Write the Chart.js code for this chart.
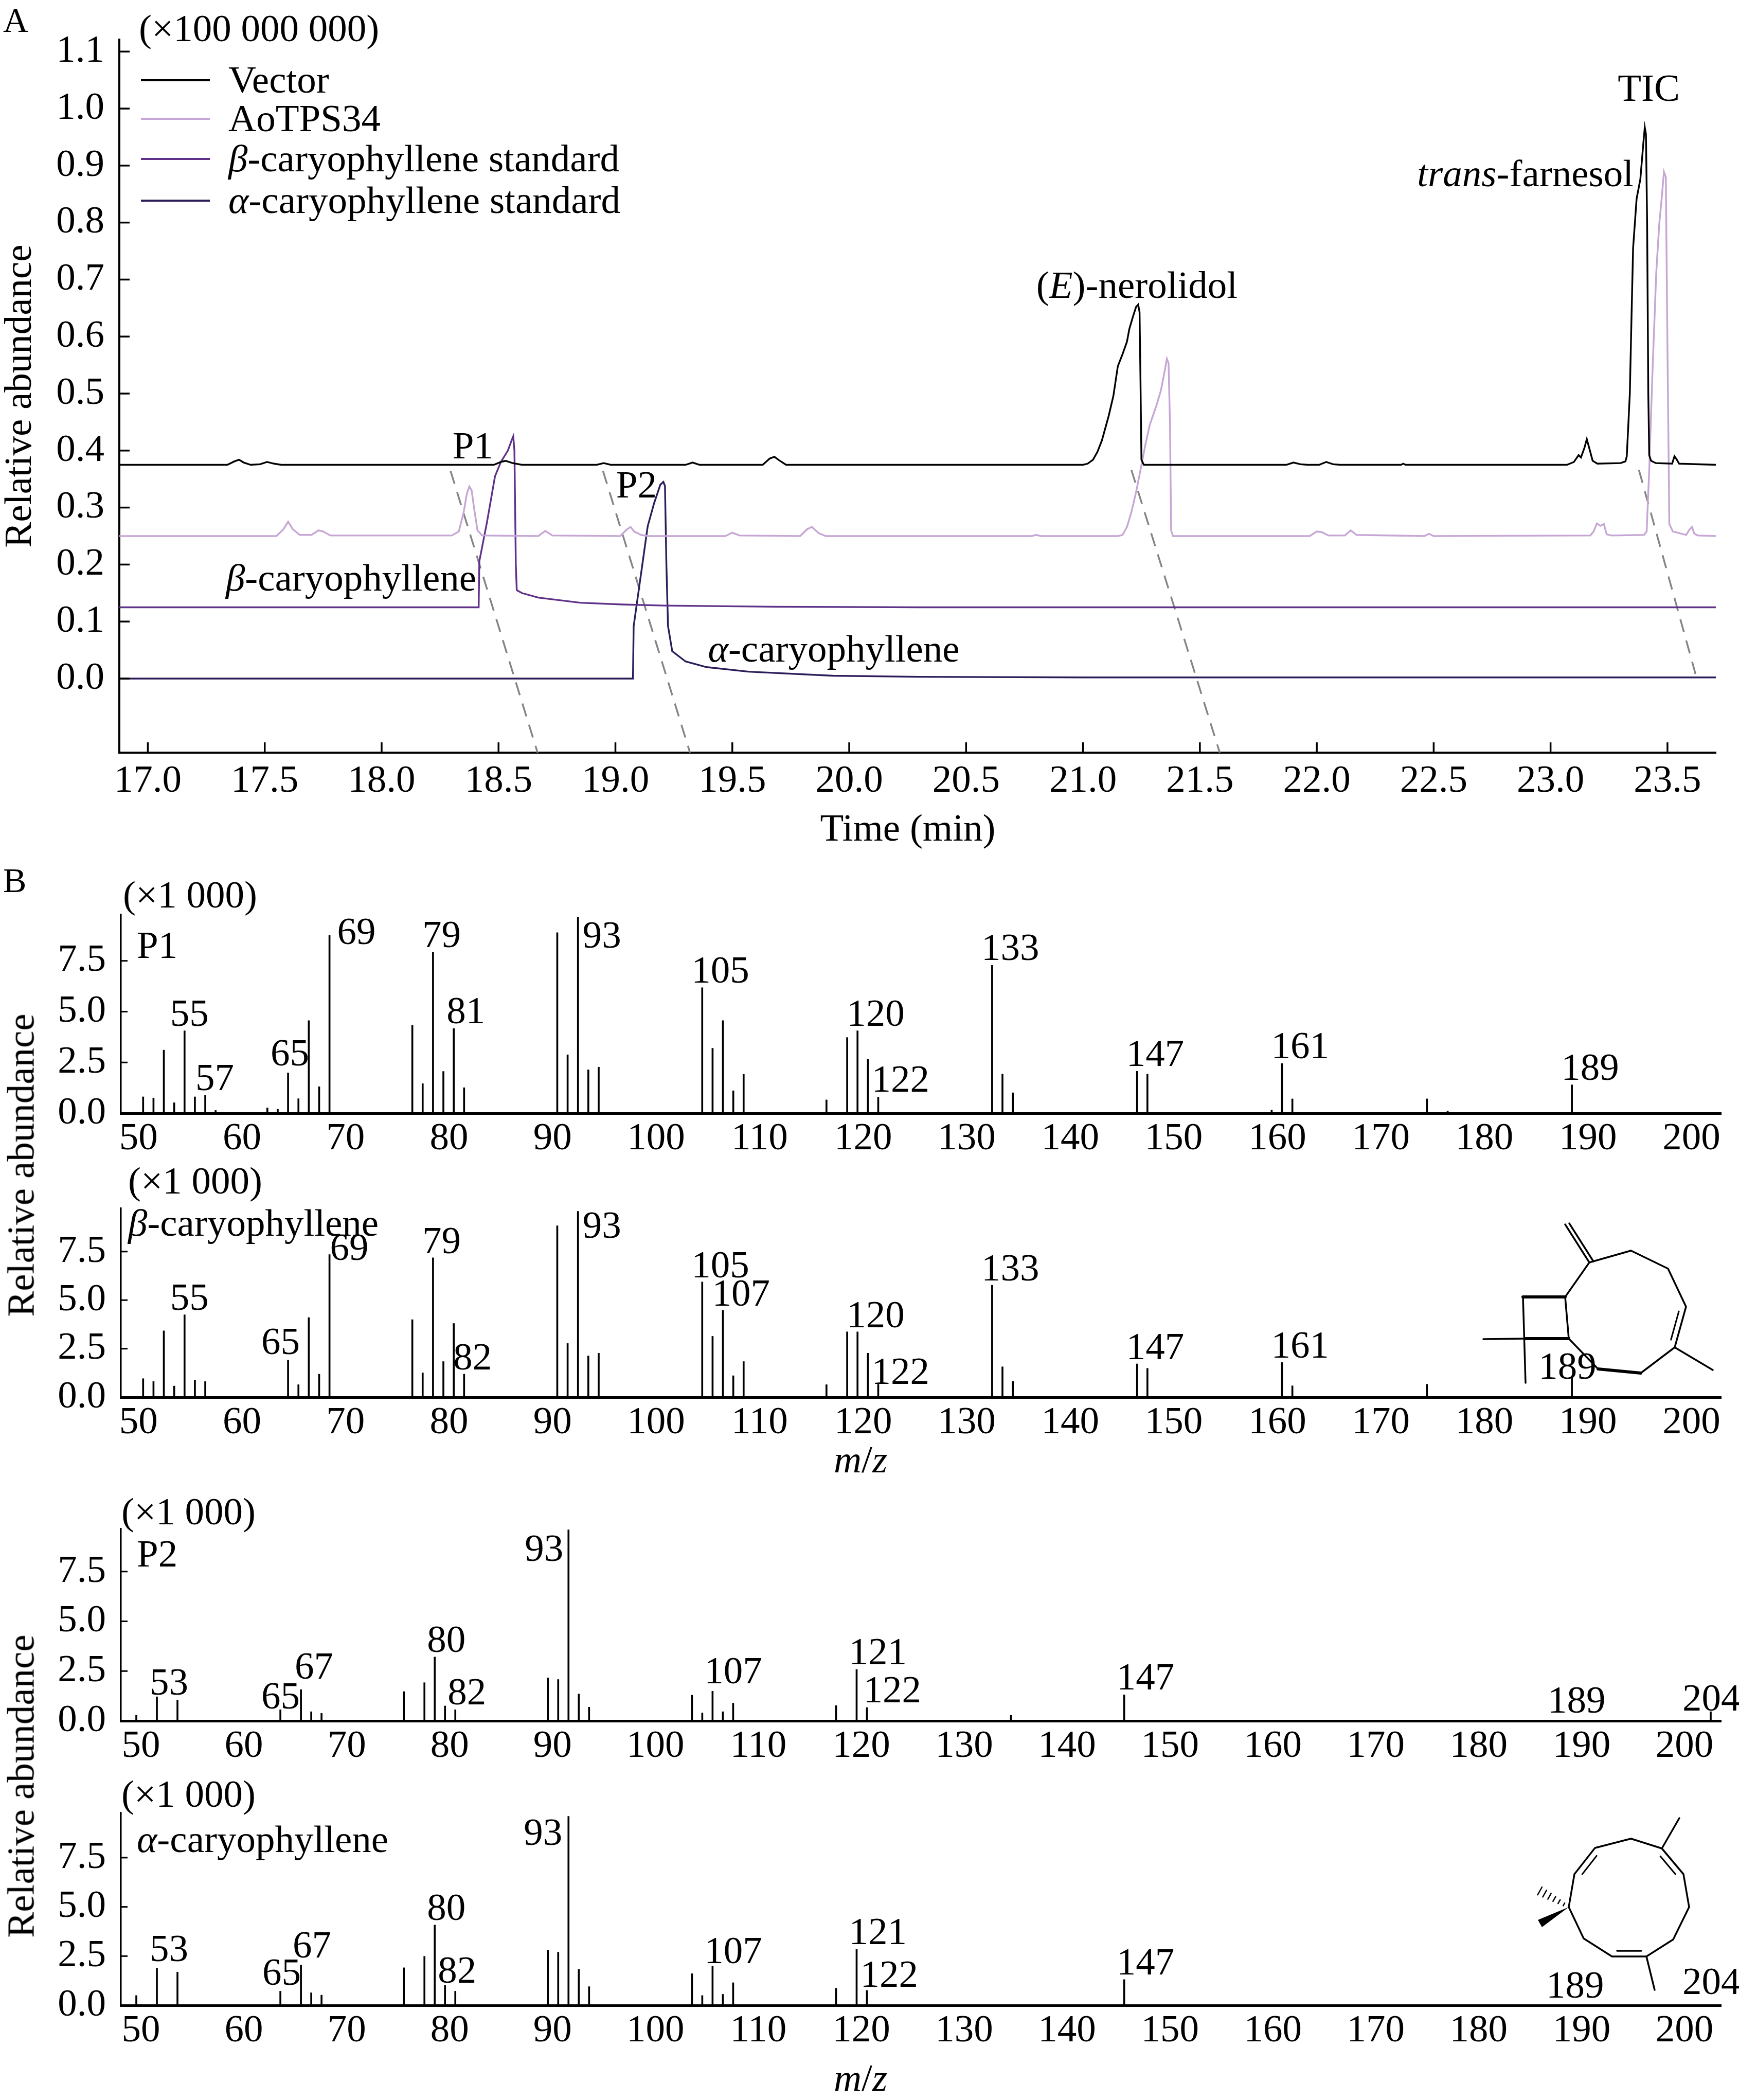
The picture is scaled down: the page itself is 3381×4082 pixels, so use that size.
<!DOCTYPE html>
<html><head><meta charset="utf-8">
<script src="https://cdn.jsdelivr.net/npm/chart.js@4.4.1/dist/chart.umd.min.js"></script>
<style>
html,body{margin:0;padding:0;background:#fff;}
#page{position:relative;width:3381px;height:4082px;background:#fff;overflow:hidden;font-family:'Liberation Serif','Times New Roman',serif;}
canvas{position:absolute;left:0;}
.ytitle{position:absolute;font-size:75px;white-space:nowrap;transform:translate(-50%,-50%) rotate(-90deg);line-height:1;color:#000;font-family:'Liberation Serif','Times New Roman',serif;}
</style></head><body>
<div id="page">
<canvas id="cA" width="3381" height="1680" style="top:0px"></canvas>
<canvas id="cP1" width="3381" height="630" style="top:1660px"></canvas>
<canvas id="cB" width="3381" height="640" style="top:2240px"></canvas>
<canvas id="cP2" width="3381" height="580" style="top:2860px"></canvas>
<canvas id="cAl" width="3381" height="662" style="top:3420px"></canvas>
<div class="ytitle" style="left:40px;top:2265px">Relative abundance</div>
<div class="ytitle" style="left:40px;top:3472px">Relative abundance</div>
</div>
<script>
// ---------------- DATA ----------------
const timeTicks = [17.0,17.5,18.0,18.5,19.0,19.5,20.0,20.5,21.0,21.5,22.0,22.5,23.0,23.5];
const abundTicks = [0.0,0.1,0.2,0.3,0.4,0.5,0.6,0.7,0.8,0.9,1.0,1.1];

const vectorTrace = [
[16.878,0.375],[17.34,0.375],[17.37,0.381],[17.39,0.384],[17.41,0.379],[17.44,0.375],[17.48,0.376],[17.51,0.380],[17.54,0.377],[17.57,0.375],
[18.48,0.375],[18.51,0.380],[18.53,0.382],[18.56,0.378],[18.60,0.375],
[18.92,0.375],[18.95,0.378],[18.98,0.375],
[19.30,0.375],[19.33,0.379],[19.36,0.375],
[19.63,0.375],[19.66,0.386],[19.68,0.389],[19.70,0.383],[19.73,0.375],
[21.00,0.375],[21.02,0.377],[21.043,0.384],[21.062,0.398],[21.081,0.418],[21.110,0.461],[21.130,0.496],[21.149,0.548],[21.169,0.569],[21.188,0.591],[21.198,0.613],[21.213,0.634],[21.227,0.652],[21.236,0.656],[21.242,0.643],[21.246,0.52],[21.25,0.384],[21.26,0.375],
[21.87,0.375],[21.90,0.379],[21.93,0.376],[21.96,0.375],[22.01,0.375],[22.04,0.380],[22.07,0.376],[22.10,0.375],[22.36,0.375],[22.37,0.377],[22.38,0.375],
[23.07,0.375],[23.10,0.380],[23.12,0.392],[23.13,0.388],[23.145,0.405],[23.155,0.420],[23.165,0.405],[23.18,0.382],[23.20,0.377],
[23.30,0.378],[23.32,0.381],[23.326,0.39],[23.332,0.44],[23.339,0.50],[23.346,0.63],[23.353,0.755],[23.368,0.842],[23.384,0.876],[23.397,0.94],[23.403,0.967],[23.408,0.955],[23.413,0.80],[23.418,0.50],[23.422,0.392],[23.43,0.382],[23.45,0.378],
[23.52,0.377],[23.53,0.390],[23.54,0.384],[23.55,0.377],[23.707,0.375]
];
const aotpsTrace = [
[16.878,0.25],[17.55,0.25],[17.58,0.262],[17.60,0.275],[17.62,0.262],[17.65,0.252],[17.70,0.252],[17.73,0.260],[17.75,0.258],[17.78,0.251],
[18.30,0.251],[18.33,0.258],[18.35,0.29],[18.365,0.325],[18.375,0.337],[18.385,0.33],[18.395,0.30],[18.41,0.26],[18.43,0.251],
[18.67,0.25],[18.70,0.259],[18.73,0.251],
[19.02,0.25],[19.05,0.262],[19.065,0.266],[19.08,0.258],[19.11,0.252],[19.14,0.25],
[19.47,0.25],[19.50,0.256],[19.53,0.251],
[19.79,0.25],[19.82,0.262],[19.84,0.266],[19.87,0.255],[19.90,0.25],
[20.78,0.25],[20.80,0.252],[20.82,0.25],
[21.15,0.25],[21.169,0.252],[21.188,0.266],[21.207,0.292],[21.227,0.327],[21.246,0.366],[21.266,0.409],[21.285,0.444],[21.314,0.479],[21.333,0.505],[21.349,0.539],[21.359,0.561],[21.366,0.553],[21.372,0.45],[21.377,0.26],[21.385,0.25],
[21.97,0.25],[22.0,0.258],[22.02,0.257],[22.05,0.251],[22.12,0.251],[22.145,0.26],[22.17,0.252],[22.46,0.25],[22.48,0.254],[22.50,0.25],
[23.17,0.251],[23.184,0.258],[23.198,0.272],[23.213,0.268],[23.228,0.271],[23.24,0.253],[23.26,0.251],
[23.40,0.252],[23.411,0.258],[23.422,0.366],[23.436,0.539],[23.452,0.712],[23.465,0.798],[23.475,0.841],[23.485,0.889],[23.493,0.88],[23.50,0.58],[23.508,0.271],[23.523,0.258],
[23.58,0.252],[23.595,0.262],[23.605,0.266],[23.615,0.254],[23.63,0.251],[23.707,0.25]
];
const betaStdTrace = [
[16.878,0.125],[18.415,0.125],[18.418,0.206],[18.45,0.273],[18.485,0.355],[18.51,0.38],[18.54,0.40],[18.558,0.42],[18.563,0.425],[18.568,0.40],[18.574,0.20],[18.578,0.155],[18.60,0.150],[18.67,0.142],[18.85,0.133],[19.03,0.130],[19.21,0.128],[19.68,0.126],[20.3,0.125],[23.707,0.125]
];
const alphaStdTrace = [
[16.878,0.0],[19.075,0.0],[19.078,0.092],[19.11,0.185],[19.138,0.267],[19.165,0.307],[19.192,0.34],[19.205,0.345],[19.212,0.338],[19.218,0.20],[19.225,0.092],[19.243,0.048],[19.30,0.03],[19.39,0.02],[19.57,0.012],[19.93,0.005],[20.3,0.003],[21.0,0.002],[23.707,0.002]
];
const guideP1 = [[18.295,0.364],[18.667,-0.13]];
const guideP2 = [[18.947,0.364],[19.319,-0.13]];
const guideNerolidol = [[21.207,0.366],[21.585,-0.13]];
const guideFarnesol = [[23.378,0.366],[23.62,0.008]];

const chromNotes = [
 {segs:[['P1',0]], x:18.39, y:0.386, align:'center'},
 {segs:[['P2',0]], x:19.09, y:0.318, align:'center'},
 {segs:[['β',1],['-caryophyllene',0]], x:18.405, y:0.154, align:'right'},
 {segs:[['α',1],['-caryophyllene',0]], x:19.396, y:0.030, align:'left'},
 {segs:[['(',0],['E',1],[')-nerolidol',0]], x:20.80, y:0.668, align:'left'},
 {segs:[['trans',1],['-farnesol',0]], x:23.355, y:0.864, align:'right'},
 {segs:[['TIC',0]], x:23.42, y:1.014, align:'center'}
];

const mzTicks = [50,60,70,80,90,100,110,120,130,140,150,160,170,180,190,200];
const relTicks = [0.0,2.5,5.0,7.5];

const p1MZ  = [51,52,53,54,55,56,57,58,63,64,65,66,67,68,69,77,78,79,80,81,82,91,92,93,94,95,105,106,107,108,109,117,119,120,121,122,133,134,135,147,148,160,161,162,175,177,189];
const p1Int = [0.81,0.75,3.11,0.52,4.06,0.81,0.88,0.14,0.27,0.20,1.99,0.72,4.56,1.31,8.75,4.33,1.46,7.92,2.06,4.17,1.26,8.89,2.88,9.66,2.14,2.27,6.18,3.20,4.56,1.11,1.92,0.66,3.73,4.06,2.66,0.80,7.28,1.93,1.01,2.07,1.93,0.16,2.45,0.71,0.71,0.11,1.40];
const p1Labels = [55,57,65,69,79,81,93,105,120,122,133,147,161,189];

const betaMZ  = [51,52,53,54,55,56,57,65,66,67,68,69,77,78,79,80,81,82,91,92,93,94,95,105,106,107,108,109,117,119,120,121,122,133,134,135,147,148,161,162,175,189];
const betaInt = [0.96,0.81,3.42,0.58,4.25,0.89,0.81,1.91,0.65,4.10,1.19,7.35,4.00,1.26,7.18,1.84,3.80,1.19,8.83,2.77,9.57,2.13,2.27,5.94,3.14,4.48,1.11,1.84,0.65,3.37,3.37,2.27,0.67,5.77,1.57,0.82,1.72,1.49,1.79,0.59,0.67,1.03];
const betaLabels = [55,65,69,79,82,93,105,107,120,122,133,147,161,189];

const p2MZ  = [51,53,55,65,67,68,69,77,79,80,81,82,91,92,93,94,95,105,106,107,108,109,119,121,122,136,147,204];
const p2Int = [0.28,1.21,1.05,0.56,1.57,0.46,0.38,1.47,1.92,3.21,0.75,0.56,2.16,2.08,9.60,1.35,0.69,1.29,0.40,1.49,0.46,0.89,0.77,2.58,0.67,0.28,1.31,0.46];
const p2Labels = [53,65,67,80,82,93,107,121,122,147,189,204];

const alphaMZ  = [51,53,55,65,67,68,69,77,79,80,81,82,91,92,93,94,95,105,106,107,108,109,119,121,122,147];
const alphaInt = [0.50,1.89,1.69,0.72,2.05,0.64,0.52,1.91,2.49,4.08,1.01,0.72,2.80,2.70,9.60,1.83,0.95,1.61,0.50,1.99,0.56,1.15,0.87,2.84,0.76,1.31];
const alphaLabels = [53,65,67,80,82,93,107,121,122,147,189,204];

// ---------------- HELPERS ----------------
const SERIF = "'Liberation Serif', 'Times New Roman', serif";
function fnt(size, italic){ return (italic ? 'italic ' : '') + size + 'px ' + SERIF; }
function drawRich(ctx, segs, x, y, align, size, baseline){
  size = size || 75;
  ctx.save();
  ctx.fillStyle = '#000';
  ctx.textBaseline = baseline || 'alphabetic';
  ctx.textAlign = 'left';
  let total = 0;
  const ws = segs.map(s => { ctx.font = fnt(size, s[1]); const w = ctx.measureText(s[0]).width; total += w; return w; });
  let cx = align === 'center' ? x - total / 2 : (align === 'right' ? x - total : x);
  segs.forEach((s, i) => { ctx.font = fnt(size, s[1]); ctx.fillText(s[0], cx, y); cx += ws[i]; });
  ctx.restore();
}
function richLabel(label){
  const c = label.charAt(0);
  if (c === 'β' || c === 'α') return [[c,1],[label.slice(1),0]];
  return [[label,0]];
}
function pts(pairs){ return pairs.map(p => ({x:p[0], y:p[1]})); }

const innerTicks = {
  id:'innerTicks',
  afterDatasetsDraw(chart, args, opts){
    const ctx = chart.ctx, ca = chart.chartArea;
    ctx.save(); ctx.strokeStyle = '#000'; ctx.lineWidth = opts.width || 3;
    if (opts.x) { const s = chart.scales.x; s.ticks.forEach(t => { const p = s.getPixelForValue(t.value); ctx.beginPath(); ctx.moveTo(p, ca.bottom); ctx.lineTo(p, ca.bottom - opts.x); ctx.stroke(); }); }
    if (opts.y) { const s = chart.scales.y; s.ticks.forEach(t => { const p = s.getPixelForValue(t.value); ctx.beginPath(); ctx.moveTo(ca.left, p); ctx.lineTo(ca.left + opts.y, p); ctx.stroke(); }); }
    ctx.restore();
  }
};

function line(ctx, pts, w, close){
  ctx.save(); ctx.strokeStyle = '#000'; ctx.lineWidth = w; ctx.lineJoin = 'round'; ctx.lineCap = 'round';
  ctx.beginPath(); ctx.moveTo(pts[0][0], pts[0][1]);
  for (let i = 1; i < pts.length; i++) ctx.lineTo(pts[i][0], pts[i][1]);
  if (close) ctx.closePath();
  ctx.stroke(); ctx.restore();
}
function innerBond(ctx, a, b, c, off, w){
  const mx = (a[0]+b[0])/2, my = (a[1]+b[1])/2;
  let dx = c[0]-mx, dy = c[1]-my; const L = Math.hypot(dx,dy); dx/=L; dy/=L;
  const s = 0.15;
  const a2 = [a[0]+(b[0]-a[0])*s + dx*off, a[1]+(b[1]-a[1])*s + dy*off];
  const b2 = [b[0]-(b[0]-a[0])*s + dx*off, b[1]-(b[1]-a[1])*s + dy*off];
  line(ctx, [a2,b2], w);
}

const FS = 75;
const tickFont = {family: SERIF, size: FS};

// ---------------- PANEL A ----------------
const decorA = {
  id:'decorA',
  afterDraw(chart){
    const ctx = chart.ctx, xs = chart.scales.x, ys = chart.scales.y;
    drawRich(ctx, [['A',0]], 6, 62, 'left', 68);
    drawRich(ctx, [['(×100 000 000)',0]], 270, 80, 'left', FS);
    ctx.save(); ctx.translate(40, 770); ctx.rotate(-Math.PI/2);
    drawRich(ctx, [['Relative abundance',0]], 0, 0, 'center', FS, 'middle');
    ctx.restore();
    drawRich(ctx, [['Time (min)',0]], 1765, 1634, 'center', FS);
    const rows = [156, 231, 309, 390];
    chart.data.datasets.slice(0,4).forEach((ds, i) => {
      ctx.save(); ctx.strokeStyle = ds.borderColor; ctx.lineWidth = 4;
      ctx.beginPath(); ctx.moveTo(274, rows[i]); ctx.lineTo(408, rows[i]); ctx.stroke(); ctx.restore();
      drawRich(ctx, richLabel(ds.label), 444, rows[i] + 24, 'left', FS);
    });
    chromNotes.forEach(n => drawRich(ctx, n.segs, xs.getPixelForValue(n.x), ys.getPixelForValue(n.y), n.align, FS));
  }
};

const traceStyle = (color, order) => ({borderColor: color, borderWidth: 3.4, pointRadius: 0, tension: 0, fill: false, order: order});
const guideStyle = {borderColor: '#858585', borderWidth: 3.5, borderDash: [26, 17], pointRadius: 0, tension: 0, fill: false, order: 10};

new Chart(document.getElementById('cA'), {
  type: 'line',
  data: { datasets: [
    Object.assign({label:'Vector', data: pts(vectorTrace)}, traceStyle('#000000', 0)),
    Object.assign({label:'AoTPS34', data: pts(aotpsTrace)}, traceStyle('#c6a6d4', 1)),
    Object.assign({label:'β-caryophyllene standard', data: pts(betaStdTrace)}, traceStyle('#5f3189', 2)),
    Object.assign({label:'α-caryophyllene standard', data: pts(alphaStdTrace)}, traceStyle('#2c1d5a', 3)),
    Object.assign({label:'g1', data: pts(guideP1)}, guideStyle),
    Object.assign({label:'g2', data: pts(guideP2)}, guideStyle),
    Object.assign({label:'g3', data: pts(guideNerolidol)}, guideStyle),
    Object.assign({label:'g4', data: pts(guideFarnesol)}, guideStyle)
  ]},
  options: {
    responsive: false, animation: false, devicePixelRatio: 1,
    layout: {padding: {left: 0, top: 77, right: 45, bottom: 0}},
    plugins: {legend: {display: false}, tooltip: {enabled: false}, innerTicks: {x: 20, y: 20, width: 3.5}},
    scales: {
      x: {type: 'linear', min: 16.878, max: 23.707,
          grid: {display: false, drawTicks: false}, border: {display: true, color: '#000', width: 4},
          ticks: {font: tickFont, color: '#000', padding: 11, maxRotation: 0, autoSkip: false, callback: v => Number(v).toFixed(1)},
          afterBuildTicks: s => { s.ticks = timeTicks.map(v => ({value: v})); },
          afterFit: s => { s.height = 217; }},
      y: {type: 'linear', min: -0.13, max: 1.121,
          grid: {display: false, drawTicks: false}, border: {display: true, color: '#000', width: 4},
          ticks: {font: tickFont, color: '#000', padding: 29, autoSkip: false, callback: v => Number(v).toFixed(1)},
          afterBuildTicks: s => { s.ticks = abundTicks.map(v => ({value: v})); },
          afterFit: s => { s.width = 232; }}
    }
  },
  plugins: [innerTicks, decorA]
});

// ---------------- PANEL B ----------------
function drawBetaStructure(ctx, T){
  const P = p => [p[0], p[1] - T];
  const C1=P([3090,2454]), C2=P([3171,2431]), C3=P([3243,2466]), C4=P([3278,2540]), C5=P([3256,2619]),
        C6=P([3190,2669]), C7=P([3107,2661]), C8=P([3050,2602]), C9=P([3043,2521]),
        Ca=P([2961,2521]), Cb=P([2966,2602]);
  const w = 3.5;
  line(ctx, [C1,C2,C3,C4,C5,C6], w);
  line(ctx, [C6,C7], 6);
  line(ctx, [C7,C8,C9,C1], w);
  innerBond(ctx, C4, C5, [3160,2550-T], 11, 3);
  line(ctx, [C5, P([3330,2663])], w);
  line(ctx, [C1, P([3043,2380])], w);
  line(ctx, [[C1[0]+8,C1[1]-2], P([3051,2378])], w);
  line(ctx, [C9, Ca], 6);
  line(ctx, [Ca, P([2966,2688])], w);
  line(ctx, [Cb, C8], 6);
  line(ctx, [Cb, P([2884,2603])], w);
}
function drawAlphaStructure(ctx, T){
  const P = p => [p[0], p[1] - T];
  const R = [[3101,3592],[3171,3574],[3231,3593],[3273,3643],[3284,3707],[3253,3770],[3201,3803],[3134,3803],[3079,3768],[3050,3707],[3061,3643]].map(P);
  const cen = P([3167,3690]);
  line(ctx, R, 3.5, true);
  innerBond(ctx, R[10], R[0], cen, 12, 3);
  innerBond(ctx, R[2], R[3], cen, 12, 3);
  innerBond(ctx, R[6], R[7], cen, 11, 3.5);
  line(ctx, [R[2], P([3265,3534])], 3.5);
  line(ctx, [R[6], P([3217,3868])], 3.5);
  const a = R[9], e = P([2994,3739]);
  let dx = e[0]-a[0], dy = e[1]-a[1]; const L = Math.hypot(dx,dy); const nx = -dy/L, ny = dx/L;
  ctx.save(); ctx.fillStyle = '#000'; ctx.beginPath(); ctx.moveTo(a[0],a[1]);
  ctx.lineTo(e[0]+nx*8, e[1]+ny*8); ctx.lineTo(e[0]-nx*8, e[1]-ny*8); ctx.closePath(); ctx.fill(); ctx.restore();
  const h = P([2991,3674]);
  dx = h[0]-a[0]; dy = h[1]-a[1]; const L2 = Math.hypot(dx,dy); const mx = -dy/L2, my = dx/L2;
  for (let k = 1; k <= 6; k++) {
    const t = k/6.3, cx = a[0]+dx*t, cy = a[1]+dy*t, hw = 2 + 7*t;
    line(ctx, [[cx-mx*hw, cy-my*hw],[cx+mx*hw, cy+my*hw]], 2.5);
  }
}

function spectrumChart(c){
  const decor = {
    id: 'decor_' + c.id,
    afterDraw(chart){
      const ctx = chart.ctx, xs = chart.scales.x, ys = chart.scales.y;
      c.texts.forEach(t => drawRich(ctx, t.s, t.x, t.y - c.top, t.a, t.size || FS));
      c.labels.forEach(m => {
        const idx = c.mz.indexOf(m);
        const v = idx >= 0 ? c.inten[idx] : 0;
        const pl = c.place[m] || c.def;
        const px = xs.getPixelForValue(m) + pl[0];
        const py = ys.getPixelForValue(v) + pl[1];
        drawRich(ctx, [[String(m),0]], px, py, pl[2] === 'r' ? 'right' : 'left', FS);
      });
      if (c.structure) c.structure(ctx, c.top);
    }
  };
  new Chart(document.getElementById(c.id), {
    type: 'bar',
    data: { datasets: [{ data: c.mz.map((m, i) => ({x: m, y: c.inten[i]})), backgroundColor: '#000', borderWidth: 0, barThickness: 3 }] },
    options: {
      responsive: false, animation: false, devicePixelRatio: 1,
      layout: {padding: {left: 0, top: c.areaTop - c.top, right: 35, bottom: 0}},
      plugins: {legend: {display: false}, tooltip: {enabled: false}, innerTicks: {y: 13, width: 3}},
      scales: {
        x: {type: 'linear', offset: false, min: c.xmin, max: c.xmax,
            grid: {display: false, drawTicks: false, offset: false}, border: {display: true, color: '#000', width: 5},
            ticks: {font: tickFont, color: '#000', padding: 5, maxRotation: 0, autoSkip: false, labelOffset: c.labelOffset, callback: v => String(Math.round(v))},
            afterBuildTicks: s => { s.ticks = mzTicks.map(v => ({value: v})); },
            afterFit: s => { s.height = c.height - (c.areaBottom - c.top); }},
        y: {type: 'linear', min: 0, max: c.ymax,
            grid: {display: false, drawTicks: false}, border: {display: true, color: '#000', width: 3.5},
            ticks: {font: tickFont, color: '#000', padding: 29, autoSkip: false, callback: v => Number(v).toFixed(1)},
            afterBuildTicks: s => { s.ticks = relTicks.map(v => ({value: v})); },
            afterFit: s => { s.width = 235; }}
      }
    },
    plugins: [innerTicks, decor]
  });
}

spectrumChart({id:'cP1', top:1660, height:630, areaTop:1778, areaBottom:2164, xmin:48.85, xmax:203.4, ymax:9.77,
  mz:p1MZ, inten:p1Int, labels:p1Labels, labelOffset:11, def:[-21,-10],
  place:{55:[-28,-10],57:[-19,-10],65:[-34,-14],69:[15,17],81:[-14,-10],93:[9,60],122:[-13,-10]},
  texts:[{s:[['B',0]],x:6,y:1734,a:'left',size:68},{s:[['(×1 000)',0]],x:239,y:1764,a:'left'},{s:[['P1',0]],x:266,y:1862,a:'left'}]});

spectrumChart({id:'cB', top:2240, height:640, areaTop:2349, areaBottom:2716, xmin:48.85, xmax:203.4, ymax:9.72,
  mz:betaMZ, inten:betaInt, labels:betaLabels, labelOffset:11, def:[-21,-9],
  place:{55:[-28,-10],65:[-52,-12],69:[1,11],93:[9,51],122:[-13,-1],189:[-65,3]},
  texts:[{s:[['(×1 000)',0]],x:249,y:2320,a:'left'},{s:[['β',1],['-caryophyllene',0]],x:249,y:2402,a:'left'},{s:[['m',1],['/',0],['z',1]],x:1673,y:2862,a:'center'}],
  structure: drawBetaStructure});

spectrumChart({id:'cP2', top:2860, height:580, areaTop:2972, areaBottom:3345, xmin:49.5, xmax:205.0, ymax:9.64,
  mz:p2MZ, inten:p2Int, labels:p2Labels, labelOffset:29, def:[-15,-10],
  place:{53:[-14,-4],65:[-37,-2],67:[-12,-21],93:[-10,60,'r'],107:[-16,-15],122:[-7,-10],189:[-17,-16],204:[-55,-2]},
  texts:[{s:[['(×1 000)',0]],x:236,y:2963,a:'left'},{s:[['P2',0]],x:266,y:3045,a:'left'}]});

spectrumChart({id:'cAl', top:3420, height:662, areaTop:3524, areaBottom:3898, xmin:49.5, xmax:205.0, ymax:9.77,
  mz:alphaMZ, inten:alphaInt, labels:alphaLabels, labelOffset:29, def:[-15,-10],
  place:{53:[-14,-14],65:[-35,-12],67:[-16,-15],82:[-34,-16],93:[-12,55,'r'],107:[-16,-6],122:[-13,-7],189:[-20,-15],204:[-55,-22]},
  texts:[{s:[['(×1 000)',0]],x:236,y:3512,a:'left'},{s:[['α',1],['-caryophyllene',0]],x:266,y:3600,a:'left'},{s:[['m',1],['/',0],['z',1]],x:1673,y:4064,a:'center'}],
  structure: drawAlphaStructure});
</script>
</body></html>
